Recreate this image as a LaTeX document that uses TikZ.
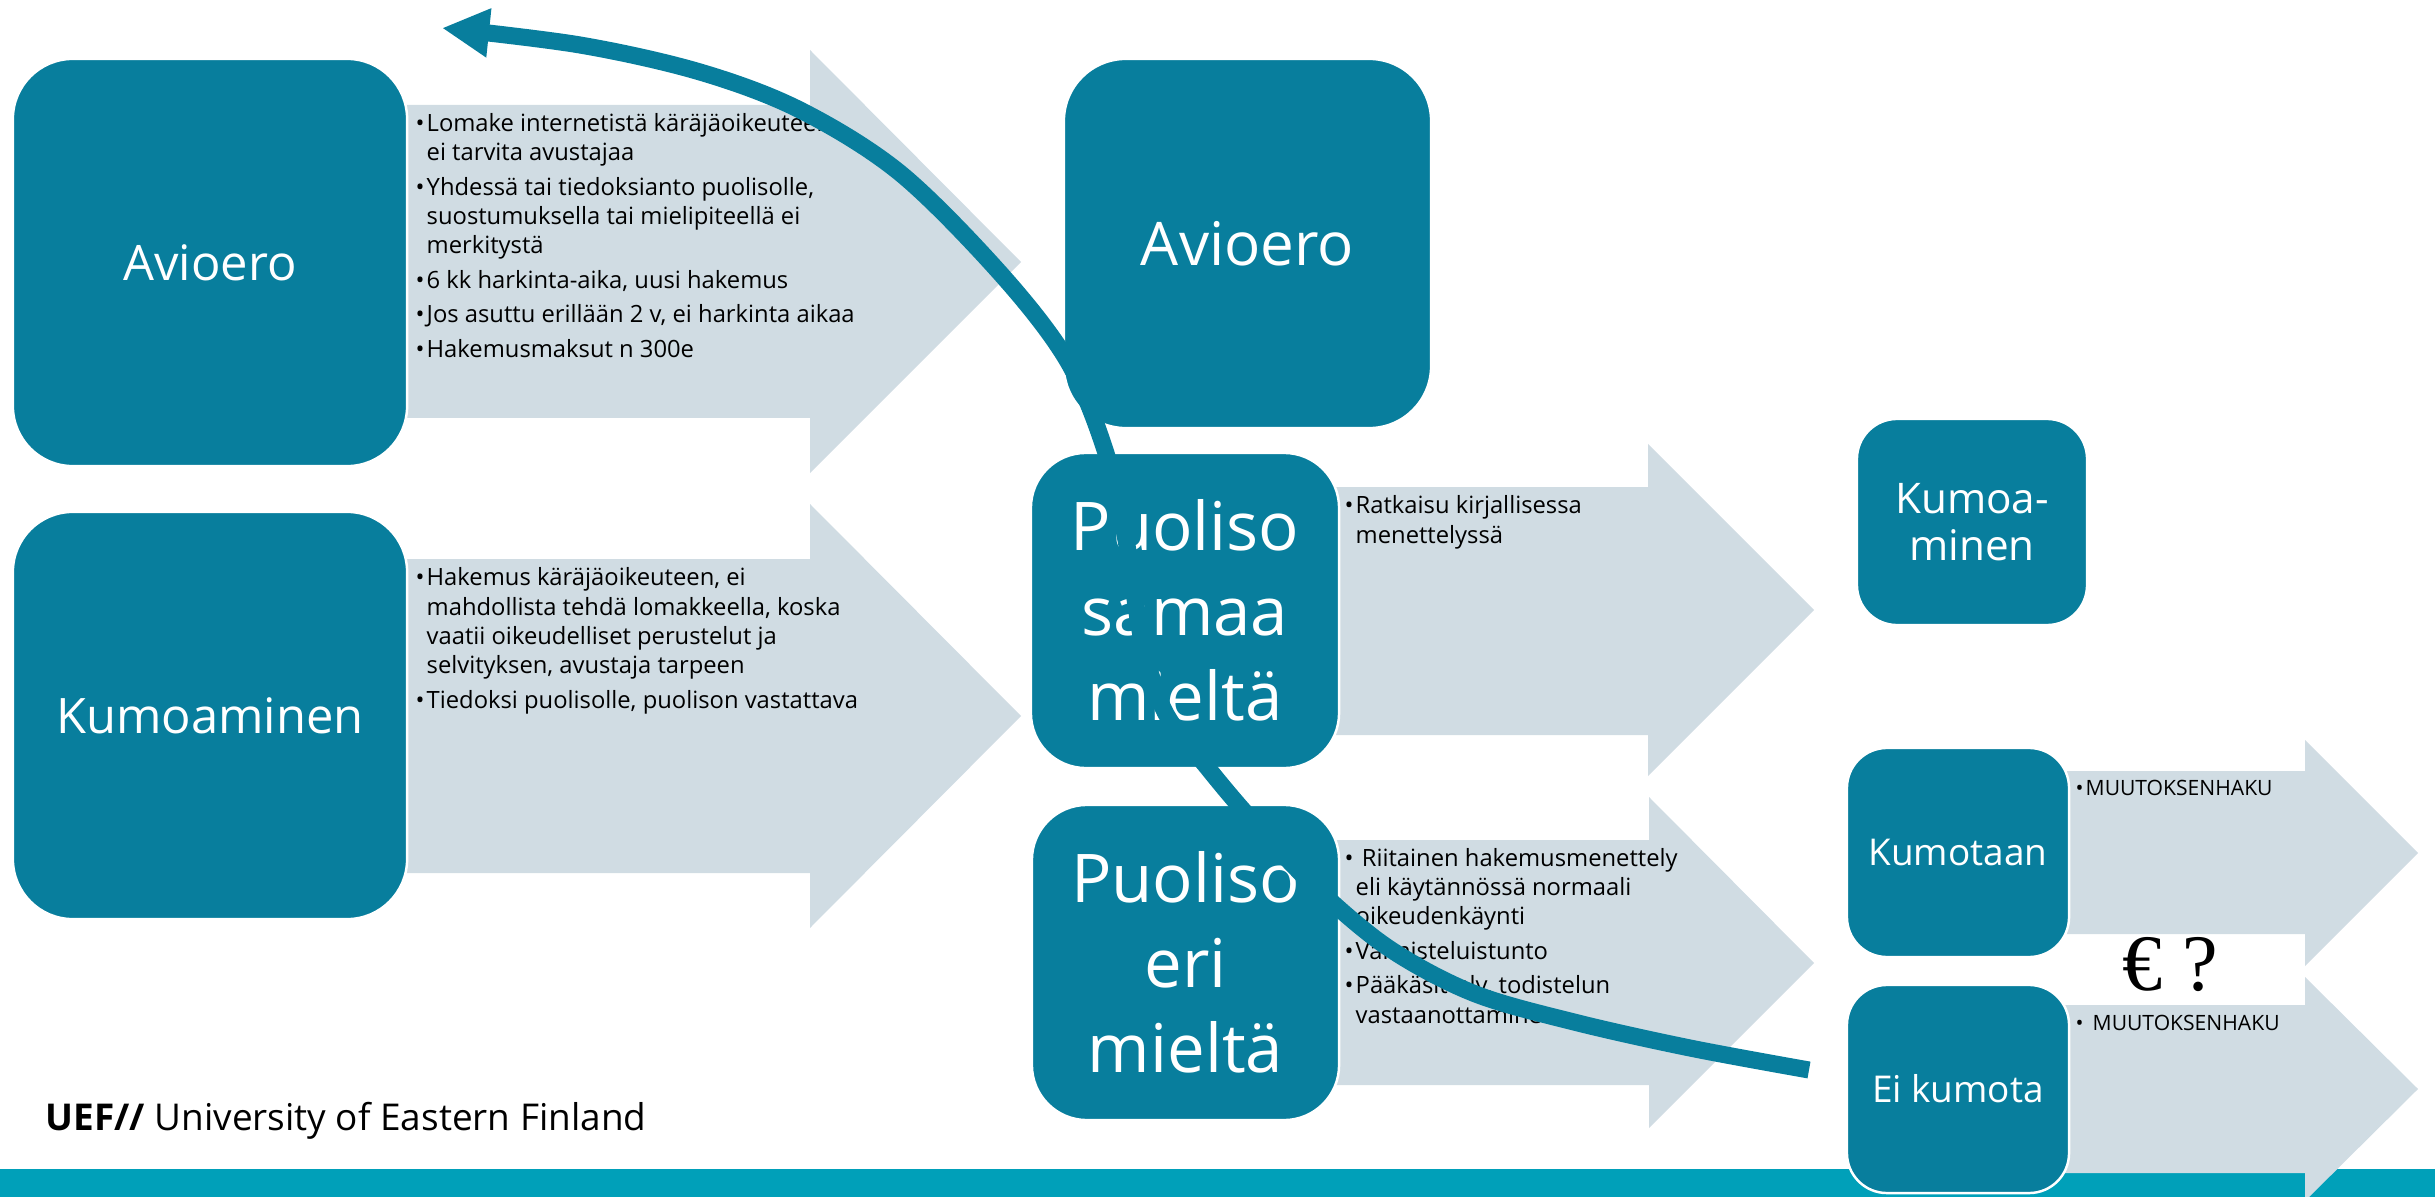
\documentclass[tikz,border=0pt]{standalone}
\usepackage{fontspec}
\setmainfont{Open Sans}
\newfontfamily\eurofont{Liberation Serif}
\usetikzlibrary{arrows.meta}

\definecolor{uefteal}{RGB}{8,126,157}
\definecolor{arrowgrey}{RGB}{208,220,227}
\definecolor{barcyan}{RGB}{0,160,185}

\tikzset{
  phase/.style={fill=uefteal, draw=white, line width=0.7pt, text=white,
    align=center, inner sep=0pt},
  % notes sit on the baseline of their last line
  notes/.style={anchor=base west, align=left, inner sep=0pt,
    font=\fontsize{6.76}{8.3}\selectfont},
  backarrow/.style={uefteal, line width=4.84pt,
    -{Triangle[length=13.4pt,width=13.1pt]}}
}
\newcommand{\itm}{\llap{\textbullet\kern0.6pt}}

\begin{document}
\begin{tikzpicture}[x=0.01cm, y=-0.01cm]
\useasboundingbox (0,0) rectangle (2435,1197);

% footer band
\fill[barcyan] (0,1169) rectangle (2435,1197);

% block arrows behind the boxes
\fill[arrowgrey] (300,105) -- (810,105) -- (810,50) -- (1021,262) -- (810,473) -- (810,418) -- (300,418) -- cycle;
\fill[arrowgrey] (300,559) -- (810,559) -- (810,504) -- (1021,716) -- (810,928) -- (810,873) -- (300,873) -- cycle;
\fill[arrowgrey] (1185,487) -- (1648,487) -- (1648,444) -- (1814,610) -- (1648,776) -- (1648,735) -- (1185,735) -- cycle;
\fill[arrowgrey] (1185,840) -- (1649,840) -- (1649,797) -- (1814,963) -- (1649,1128) -- (1649,1085) -- (1185,1085) -- cycle;
\fill[arrowgrey] (1958,771) -- (2305,771) -- (2305,740) -- (2418,853) -- (2305,966) -- (2305,934) -- (1958,934) -- cycle;
\fill[arrowgrey] (1958,1005) -- (2305,1005) -- (2305,977) -- (2418,1089) -- (2305,1201) -- (2305,1173) -- (1958,1173) -- cycle;

% boxes
\node[phase, minimum width=3.94cm, minimum height=4.07cm, rounded corners=0.6cm,
  font=\fontsize{13.9}{16}\selectfont] (avioero) at (210,262.5) {Avioero};
\node[phase, minimum width=3.94cm, minimum height=4.07cm, rounded corners=0.6cm,
  font=\fontsize{13.9}{16}\selectfont] (kumoaminen) at (210,715.5) {Kumoaminen};
\node[phase, minimum width=3.67cm, minimum height=3.69cm, rounded corners=0.62cm,
  font=\fontsize{17.1}{20}\selectfont] (avioeroB) at (1247.5,243.5) {Avioero};
\node[phase, minimum width=3.08cm, minimum height=3.15cm, rounded corners=0.55cm,
  font=\fontsize{19.1}{24.2}\selectfont] (samaa) at (1185,610.5) {Puoliso\\samaa\\mieltä};
\node[phase, minimum width=3.07cm, minimum height=3.15cm, rounded corners=0.55cm,
  font=\fontsize{19.1}{24.2}\selectfont] (eri) at (1185.5,962.5) {Puoliso\\eri\\mieltä};
\node[phase, minimum width=2.30cm, minimum height=2.06cm, rounded corners=0.4cm,
  font=\fontsize{12}{13.4}\selectfont] (kumoaB) at (1972,522) {Kumoa-\\minen};
\node[phase, minimum width=2.22cm, minimum height=2.09cm, rounded corners=0.4cm,
  font=\fontsize{10.5}{12}\selectfont] (kumotaan) at (1958,852.5) {Kumotaan};
\node[phase, minimum width=2.22cm, minimum height=2.08cm, rounded corners=0.4cm,
  font=\fontsize{10.5}{12}\selectfont] (eikumota) at (1958,1089) {Ei kumota};

% texts in the arrows
\node[notes] (avioeronotes) at (426,357) {\itm Lomake internetistä käräjäoikeuteen,\\ei tarvita avustajaa\\[1.5pt]
  \itm Yhdessä tai tiedoksianto puolisolle,\\suostumuksella tai mielipiteellä ei\\merkitystä\\[1.5pt]
  \itm 6 kk harkinta-aika, uusi hakemus\\[1.5pt]
  \itm Jos asuttu erillään 2 v, ei harkinta aikaa\\[1.5pt]
  \itm Hakemusmaksut n 300e};
\node[notes] (kumoaminennotes) at (426,708) {\itm Hakemus käräjäoikeuteen, ei\\mahdollista tehdä lomakkeella, koska\\vaatii oikeudelliset perustelut ja\\selvityksen, avustaja tarpeen\\[1.5pt]
  \itm Tiedoksi puolisolle, puolison vastattava};
\node[notes] (samaanotes) at (1355,543) {\itm Ratkaisu kirjallisessa\\menettelyssä};
\node[notes] (erinotes) at (1355,1023) {\itm\ Riitainen hakemusmenettely\\eli käytännössä normaali\\oikeudenkäynti\\[1.5pt]
  \itm Valmisteluistunto\\[1.5pt]
  \itm Pääkäsittely, todistelun\\vastaanottaminen};
\node[notes, font=\fontsize{6}{7}\selectfont] (haku) at (2085,795) {\itm MUUTOKSENHAKU};
\node[notes, font=\fontsize{6}{7}\selectfont] (hakuB) at (2092,1030) {\llap{\textbullet\kern2.6pt}MUUTOKSENHAKU};
\node[anchor=base, inner sep=0pt, font=\eurofont\fontsize{22.8}{24}\selectfont] (cost) at (2170,990) {€ ?};

% the long arrow back to the start
\coordinate (backstart) at (1809,1070);
\coordinate (backend) at (442,28);
\draw[backarrow] plot[smooth, tension=0.55] coordinates {(backstart) (1690,1048) (1574,1022)
  (1473,993) (1387,947) (1310,882) (1250,818) (1207,767) (1165,712) (1142,640) (1126,540)
  (1105,450) (1067,360) (1000,273) (900,173) (800,110) (700,72) (580,45) (backend)};

\node[anchor=base west, inner sep=0pt, font=\fontsize{10.5}{12}\selectfont] (uef) at (45,1130)
  {\textbf{UEF//} University of Eastern Finland};
\end{tikzpicture}
\end{document}
